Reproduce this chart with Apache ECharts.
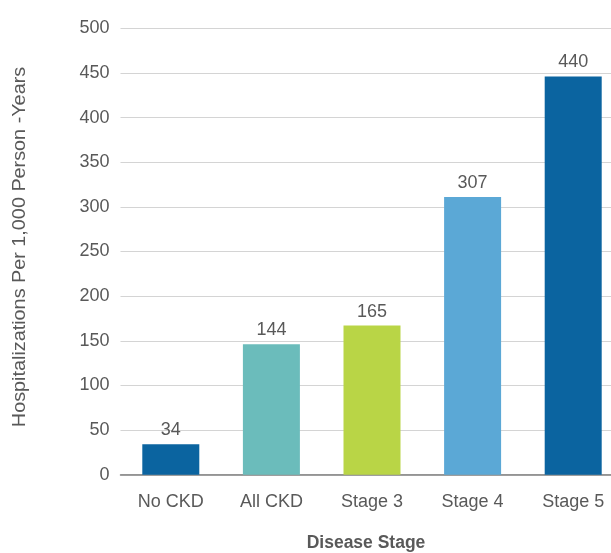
<!DOCTYPE html>
<html><head><meta charset="utf-8">
<script src="https://cdn.jsdelivr.net/npm/echarts@6/dist/echarts.min.js"></script>
<style>html,body{margin:0;padding:0;background:#fff;overflow:hidden;width:611px;height:553px}#c{width:624px;height:553px}</style>
</head><body><div id="c"></div>
<script>
const categories = ['No CKD', 'All CKD', 'Stage 3', 'Stage 4', 'Stage 5'];
const barValues = [34, 146, 167, 311, 446];
const barLabels = ['34', '144', '165', '307', '440'];
const barColors = ['#0b64a0', '#6bbcbb', '#b9d546', '#5ba8d6', '#0b64a0'];
const yTicks = { min: 0, max: 500, interval: 50 };

const chart = echarts.init(document.getElementById('c'));
const font = '"Liberation Sans", Arial, sans-serif';
chart.setOption({
  animation: false,
  grid: { left: 120.5, right: 0.5, top: 28.3, bottom: 78.3, containLabel: false },
  xAxis: {
    type: 'category', data: categories,
    axisLine: { lineStyle: { color: '#7f7f7f', width: 1.5 } },
    axisTick: { show: false },
    axisLabel: { color: '#595959', fontSize: 18, fontFamily: font, margin: 18 }
  },
  yAxis: {
    type: 'value', min: yTicks.min, max: yTicks.max, interval: yTicks.interval,
    axisLine: { show: false }, axisTick: { show: false },
    axisLabel: { color: '#595959', fontSize: 18, fontFamily: font, margin: 11 },
    splitLine: { lineStyle: { color: '#d4d4d4', width: 1.2 } }
  },
  graphic: [
    { type: 'text', x: 366, y: 543, style: { text: 'Disease Stage', font: 'bold 17.5px ' + font, fill: '#595959', align: 'center', verticalAlign: 'middle' } },
    { type: 'text', x: 20, y: 247, rotation: Math.PI / 2, scaleX: 1.1, style: { text: 'Hospitalizations Per 1,000 Person -Years', font: '18px ' + font, fill: '#595959', align: 'center', verticalAlign: 'middle' } }
  ],
  series: [{
    type: 'bar', barWidth: 57,
    data: barValues.map((v, i) => ({ value: v, itemStyle: { color: barColors[i] } })),
    label: { show: true, position: 'top', distance: 5, color: '#595959', fontSize: 18, fontFamily: font,
      formatter: p => barLabels[p.dataIndex] }
  }]
});
</script></body></html>
